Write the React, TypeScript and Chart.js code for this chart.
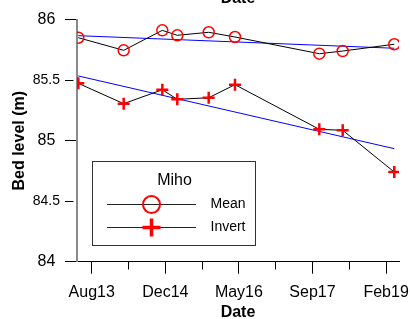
import React, { useEffect, useRef } from 'react';
import { Chart, registerables } from 'chart.js';

Chart.register(...registerables);

// Dates as months since 1 Jan 2013
const surveyDates = [4.0, 14.17, 22.83, 26.19, 33.23, 39.12, 58.02, 63.27, 74.83];
const meanLevels = [85.851, 85.747, 85.912, 85.871, 85.896, 85.857, 85.719, 85.741, 85.797];
const invertLevels = [85.474, 85.306, 85.421, 85.342, 85.355, 85.463, 85.094, 85.086, 84.741];
const trendDates = [4.0, 74.83];
const meanTrend = [85.868, 85.764];
const invertTrend = [85.535, 84.934];
const majorTicks = [7, 23.5, 40, 56.5, 73];
const majorLabels = ['Aug13', 'Dec14', 'May16', 'Sep17', 'Feb19'];
const minorTicks = [15.25, 31.75, 48.25, 64.75];
const legendTitle = 'Miho';
const seriesNames = ['Mean', 'Invert'];

const FONT = '"Liberation Sans", Arial, sans-serif';

const pts = (xs: number[], ys: number[]) => xs.map((x, i) => ({ x, y: ys[i] }));
const isHalf = (v: number) => Math.abs(v - Math.round(v)) > 1e-6;

const legendPlugin = {
  id: 'mihoLegend',
  afterDatasetsDraw(chart: any) {
    const ctx = chart.ctx;
    ctx.save();
    ctx.fillStyle = '#fff';
    ctx.fillRect(92.5, 161.5, 163, 84);
    ctx.strokeStyle = '#333';
    ctx.lineWidth = 1;
    ctx.strokeRect(92.5, 161.5, 163, 84);
    ctx.fillStyle = '#000';
    ctx.font = `16px ${FONT}`;
    ctx.textAlign = 'center';
    ctx.textBaseline = 'middle';
    ctx.fillText(legendTitle, 174.5, 181);
    const rows = [204.5, 227.5];
    rows.forEach((y, i) => {
      ctx.strokeStyle = '#222';
      ctx.lineWidth = 1;
      ctx.beginPath();
      ctx.moveTo(107, y);
      ctx.lineTo(196, y);
      ctx.stroke();
      ctx.strokeStyle = '#ff0000';
      if (i === 0) {
        ctx.lineWidth = 2;
        ctx.beginPath();
        ctx.arc(151.5, y, 8.5, 0, Math.PI * 2);
        ctx.stroke();
      } else {
        ctx.lineWidth = 3.5;
        ctx.beginPath();
        ctx.moveTo(142.5, y);
        ctx.lineTo(160.5, y);
        ctx.moveTo(151.5, y - 9);
        ctx.lineTo(151.5, y + 9);
        ctx.stroke();
      }
      ctx.fillStyle = '#000';
      ctx.font = `14px ${FONT}`;
      ctx.textAlign = 'left';
      ctx.fillText(seriesNames[i], 210.5, y);
    });
    ctx.restore();
  },
};

export default function App() {
  const ref = useRef<HTMLCanvasElement>(null);
  useEffect(() => {
    if (!ref.current) return;
    const chart = new Chart(ref.current, {
      type: 'line',
      data: {
        datasets: [
          {
            label: seriesNames[0],
            data: pts(surveyDates, meanLevels),
            xAxisID: 'x',
            yAxisID: 'y',
            borderColor: '#000',
            borderWidth: 1,
            pointStyle: 'circle',
            pointRadius: 5.5,
            pointBorderColor: '#ff0000',
            pointBackgroundColor: 'rgba(0,0,0,0)',
            pointBorderWidth: 1.5,
          },
          {
            label: seriesNames[1],
            data: pts(surveyDates, invertLevels),
            xAxisID: 'x',
            yAxisID: 'y',
            borderColor: '#000',
            borderWidth: 1,
            pointStyle: 'cross',
            pointRadius: 6,
            pointBorderColor: '#ff0000',
            pointBorderWidth: 2.5,
          },
          {
            label: 'Mean trend',
            data: pts(trendDates, meanTrend),
            xAxisID: 'x',
            yAxisID: 'y',
            borderColor: '#0000ff',
            borderWidth: 1,
            pointRadius: 0,
          },
          {
            label: 'Invert trend',
            data: pts(trendDates, invertTrend),
            xAxisID: 'x',
            yAxisID: 'y',
            borderColor: '#0000ff',
            borderWidth: 1,
            pointRadius: 0,
          },
        ],
      },
      options: {
        responsive: false,
        animation: false,
        events: [],
        layout: { padding: { left: 0, right: 11, top: 0, bottom: 0 } },
        plugins: { legend: { display: false }, tooltip: { enabled: false }, title: { display: false } },
        scales: {
          x: {
            type: 'linear',
            position: 'bottom',
            min: 3.705,
            max: 75.89,
            afterBuildTicks: (s: any) => {
              s.ticks = [...majorTicks, ...minorTicks].sort((a, b) => a - b).map((v) => ({ value: v }));
            },
            afterFit: (s: any) => {
              s.height = 57.3;
              s.paddingLeft = 0;
              s.paddingRight = 0;
            },
            grid: {
              display: true,
              drawOnChartArea: false,
              drawTicks: true,
              tickLength: 12,
              tickColor: '#000',
              tickWidth: 1,
              tickBorderDash: (c: any) => (c.tick && minorTicks.includes(c.tick.value) ? [7.5, 100] : []),
            },
            border: { display: true, color: '#000', width: 1 },
            ticks: {
              autoSkip: false,
              maxRotation: 0,
              padding: 9,
              color: '#000',
              font: { family: FONT, size: 16 },
              callback: (v: any) => {
                const i = majorTicks.indexOf(Number(v));
                return i >= 0 ? majorLabels[i] : '';
              },
            },
            title: {
              display: true,
              text: 'Date',
              color: '#000',
              font: { family: FONT, size: 16, weight: 'bold' },
              padding: { top: 0, bottom: -3.3 },
            },
          },
          xTop: {
            type: 'linear',
            position: 'top',
            display: true,
            min: 0,
            max: 1,
            grid: { display: false, drawTicks: false },
            ticks: { display: false },
            border: { display: false },
            title: {
              display: true,
              text: 'Date',
              color: '#000',
              font: { family: FONT, size: 16, weight: 'bold' },
              padding: { top: -11.5, bottom: 0 },
            },
            afterFit: (s: any) => { s.height = 19.7; },
          },
          y: {
            type: 'linear',
            position: 'left',
            min: 84,
            max: 86,
            afterFit: (s: any) => { s.width = 77; },
            grid: {
              display: true,
              drawOnChartArea: false,
              drawTicks: true,
              tickLength: 12,
              tickColor: '#000',
              tickWidth: 1,
              tickBorderDash: (c: any) => (c.tick && isHalf(c.tick.value) ? [8.5, 100] : []),
            },
            border: { display: true, color: '#8a8a8a', width: 2 },
            ticks: {
              stepSize: 0.5,
              padding: 5,
              crossAlign: 'center',
              color: '#000',
              font: (c: any) => ({ family: FONT, size: c.tick && isHalf(c.tick.value) ? 14 : 16 }),
              callback: (v: any) => String(Number(v)),
            },
            title: {
              display: true,
              text: 'Bed level (m)',
              color: '#000',
              font: { family: FONT, size: 16, weight: 'bold' },
              padding: { top: 9.9, bottom: 0 },
            },
          },
        },
      } as any,
      plugins: [legendPlugin],
    });
    return () => chart.destroy();
  }, []);
  return (
    <div style={{ position: 'absolute', left: 0, top: 0, width: 410, height: 319, background: '#fff' }}>
      <canvas ref={ref} width={410} height={319} style={{ display: 'block' }} />
    </div>
  );
}
